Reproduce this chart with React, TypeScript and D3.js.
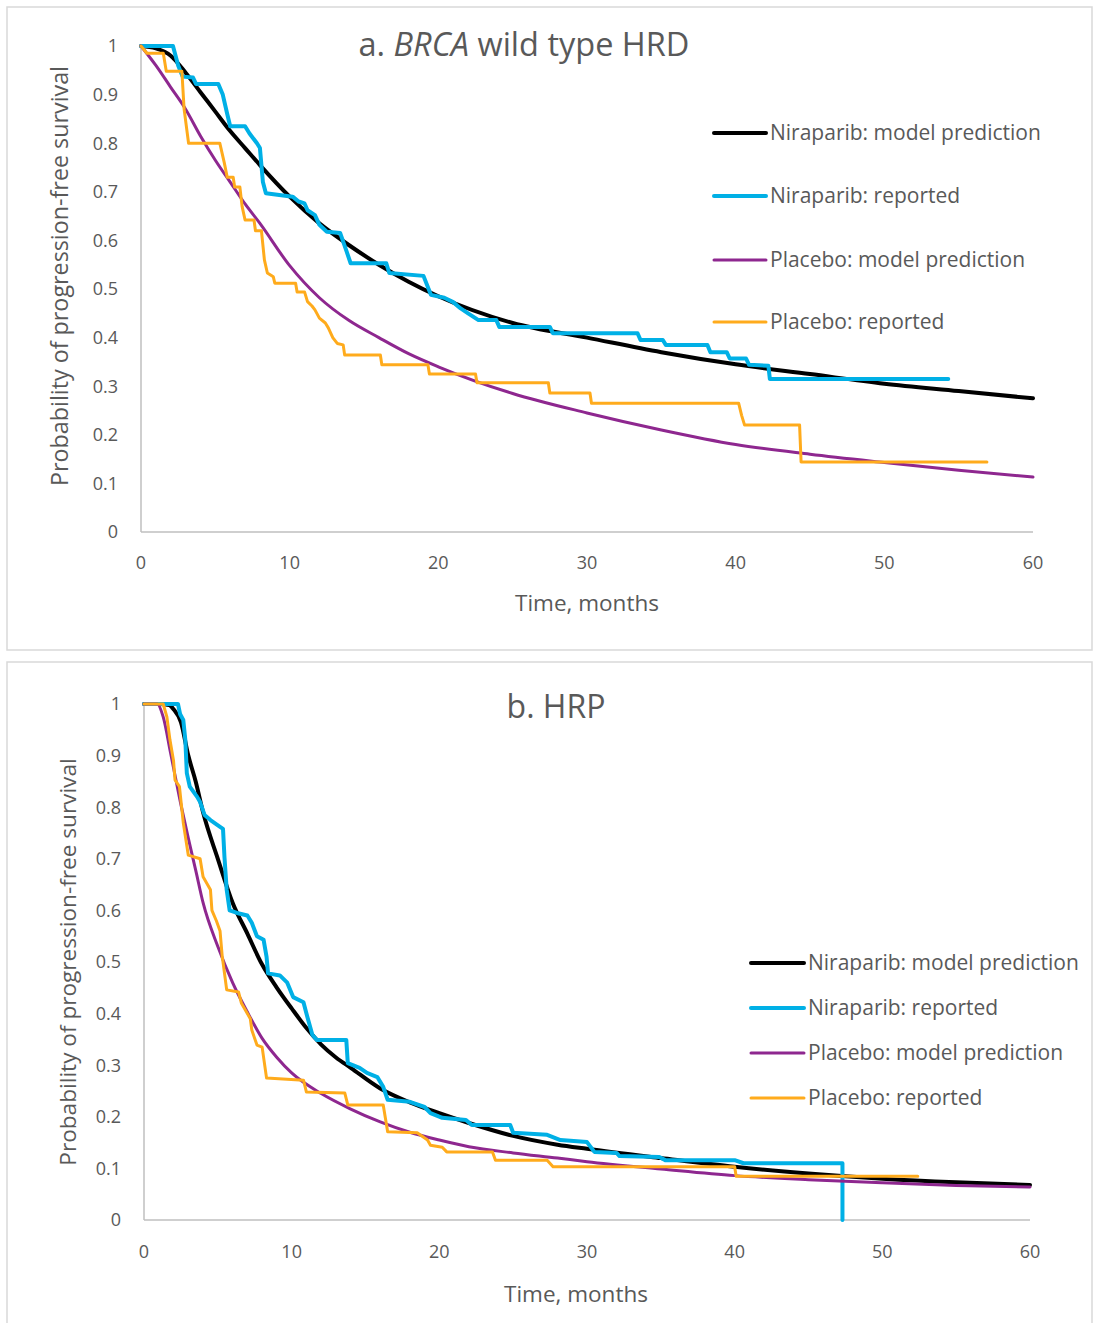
import React from "react";
import * as d3 from "d3";

// ---------- data ----------
const xTickValues = [0, 10, 20, 30, 40, 50, 60];
const yTickValues = [0, 0.1, 0.2, 0.3, 0.4, 0.5, 0.6, 0.7, 0.8, 0.9, 1];
const legendLabels = [
  "Niraparib: model prediction",
  "Niraparib: reported",
  "Placebo: model prediction",
  "Placebo: reported",
];
const xAxisTitle = "Time, months";
const yAxisTitle = "Probability of progression-free survival";

// Panel a: BRCA wild type HRD
const aNiraparibModel: [number, number][] = [
  [0, 1], [1, 0.995], [2, 0.98], [3, 0.945], [4, 0.905], [5, 0.865], [6, 0.825],
  [7, 0.79], [8, 0.755], [10, 0.69], [12, 0.635], [14, 0.59], [16, 0.55],
  [18, 0.515], [20, 0.485], [25, 0.43], [30, 0.4], [35, 0.37], [40, 0.345],
  [45, 0.325], [50, 0.305], [55, 0.29], [60, 0.275],
];
const aNiraparibReported: [number, number][] = [
  [0, 1], [2.15, 1], [2.5, 0.96], [2.8, 0.937], [3.5, 0.935], [3.7, 0.922], [5.2, 0.922],
  [5.5, 0.9], [5.8, 0.86], [6, 0.835], [7, 0.835], [7.3, 0.82], [7.8, 0.8], [8.0, 0.79],
  [8.2, 0.72], [8.4, 0.697], [10.2, 0.69], [10.6, 0.68], [11, 0.676], [11.2, 0.662],
  [11.7, 0.652], [12, 0.632], [12.5, 0.618], [13.4, 0.615], [13.8, 0.58], [14.1, 0.553],
  [16.5, 0.553], [16.7, 0.533], [19, 0.527], [19.5, 0.488], [20.4, 0.482], [21, 0.473],
  [21.5, 0.46], [22, 0.45], [22.7, 0.436], [23.9, 0.436], [24.1, 0.422], [27.5, 0.422],
  [27.7, 0.409], [33.4, 0.409], [33.6, 0.395], [35.1, 0.395], [35.3, 0.385], [38.1, 0.385],
  [38.3, 0.37], [39.4, 0.37], [39.6, 0.357], [40.7, 0.357], [40.9, 0.344], [42.2, 0.342],
  [42.3, 0.315], [54.3, 0.315],
];
const aPlaceboModel: [number, number][] = [
  [0, 1], [1, 0.96], [2, 0.915], [3, 0.87], [4, 0.815], [5, 0.765], [6, 0.72],
  [7, 0.675], [8, 0.635], [10, 0.548], [12, 0.482], [14, 0.435], [16, 0.4],
  [18, 0.367], [20, 0.34], [25, 0.285], [30, 0.245], [35, 0.21], [40, 0.18],
  [45, 0.16], [50, 0.143], [55, 0.127], [60, 0.113],
];
const aPlaceboReported: [number, number][] = [
  [0, 1], [0.4, 0.985], [1.5, 0.985], [1.7, 0.948], [2.75, 0.948], [2.9, 0.87], [3.2, 0.8],
  [5.3, 0.8], [5.6, 0.76], [5.8, 0.73], [6.2, 0.73], [6.3, 0.71], [6.65, 0.71], [6.8, 0.67],
  [7, 0.642], [7.6, 0.642], [7.7, 0.62], [8.1, 0.62], [8.3, 0.56], [8.5, 0.533], [8.9, 0.525],
  [9, 0.512], [10.4, 0.512], [10.5, 0.494], [11, 0.494], [11.2, 0.474], [11.5, 0.465],
  [11.7, 0.457], [12, 0.44], [12.4, 0.43], [12.6, 0.42], [12.9, 0.4], [13.2, 0.388],
  [13.6, 0.385], [13.7, 0.364], [16.1, 0.364], [16.2, 0.344], [19.3, 0.344], [19.4, 0.325],
  [22.5, 0.325], [22.6, 0.307], [27.4, 0.307], [27.5, 0.286], [30.2, 0.286], [30.3, 0.265],
  [40.2, 0.265], [40.4, 0.24], [40.6, 0.22], [44.3, 0.22], [44.4, 0.144], [56.9, 0.144],
];

// Panel b: HRP
const bNiraparibModel: [number, number][] = [
  [0, 1], [1, 1], [1.7, 0.998], [2, 0.99], [2.5, 0.965], [3, 0.9], [3.5, 0.85], [4, 0.79],
  [5, 0.7], [6, 0.615], [7, 0.555], [8, 0.495], [9, 0.45], [10, 0.41], [11, 0.372],
  [12, 0.34], [13, 0.315], [14, 0.295], [16, 0.255], [18, 0.228], [20, 0.207], [22, 0.188],
  [25, 0.163], [28, 0.146], [30, 0.138], [35, 0.12], [40, 0.103], [45, 0.09], [50, 0.08],
  [55, 0.073], [60, 0.068],
];
const bNiraparibReported: [number, number][] = [
  [0, 1], [2.3, 1], [2.45, 0.98], [2.66, 0.969], [2.8, 0.93], [2.9, 0.866], [3.1, 0.84],
  [3.6, 0.82], [3.8, 0.81], [4.1, 0.785], [4.5, 0.775], [5.15, 0.762], [5.35, 0.758],
  [5.45, 0.703], [5.6, 0.64], [5.8, 0.6], [6.3, 0.595], [7, 0.59], [7.3, 0.576], [7.65, 0.55],
  [8.1, 0.543], [8.3, 0.51], [8.4, 0.478], [9.2, 0.474], [9.7, 0.46], [10.1, 0.432],
  [10.8, 0.422], [11, 0.4], [11.4, 0.359], [11.7, 0.349], [13.7, 0.349], [13.8, 0.304],
  [14.6, 0.295], [15.1, 0.285], [15.8, 0.277], [16.2, 0.258], [16.5, 0.233], [18, 0.229],
  [19, 0.219], [19.4, 0.207], [20.2, 0.198], [21.8, 0.194], [22.2, 0.184], [24.8, 0.184],
  [25, 0.169], [27.3, 0.165], [28.2, 0.155], [30, 0.151], [30.5, 0.132], [32, 0.13],
  [32.2, 0.124], [34.9, 0.122], [35.3, 0.116], [40, 0.116], [40.6, 0.11], [47.3, 0.11],
  [47.3, 0],
];
const bPlaceboModel: [number, number][] = [
  [0, 1], [0.9, 1], [1.3, 0.975], [1.8, 0.905], [2.5, 0.805], [3, 0.74], [3.5, 0.678],
  [4, 0.615], [5, 0.53], [6, 0.46], [7, 0.403], [8, 0.352], [9, 0.315], [10, 0.285],
  [12, 0.245], [14, 0.215], [16, 0.19], [18, 0.17], [20, 0.155], [22, 0.142], [25, 0.13],
  [28, 0.12], [30, 0.113], [35, 0.099], [40, 0.086], [45, 0.078], [50, 0.072], [55, 0.067],
  [60, 0.064],
];
const bPlaceboReported: [number, number][] = [
  [0, 1], [1.3, 1], [1.55, 0.975], [1.76, 0.93], [2, 0.89], [2.1, 0.853], [2.4, 0.84],
  [2.66, 0.77], [3, 0.707], [3.8, 0.7], [4, 0.665], [4.5, 0.64], [4.6, 0.6], [4.9, 0.58],
  [5.15, 0.56], [5.3, 0.51], [5.35, 0.5], [5.6, 0.446], [6.4, 0.442], [6.6, 0.42],
  [7.2, 0.39], [7.3, 0.368], [7.65, 0.339], [8, 0.335], [8.3, 0.275], [10.8, 0.271],
  [11, 0.248], [13.6, 0.246], [13.8, 0.223], [16.2, 0.223], [16.5, 0.171], [18.5, 0.169],
  [19.2, 0.155], [19.4, 0.145], [20.2, 0.141], [20.5, 0.132], [23.6, 0.132], [23.8, 0.116],
  [27.3, 0.116], [27.7, 0.103], [40, 0.103], [40.1, 0.085], [52.4, 0.085],
];

// ---------- drawing ----------
const FONT = "'Open Sans', 'Noto Sans', sans-serif";
const TEXT = "#595959";
const AXIS = "#bfbfbf";
const COLORS = ["#000000", "#00B0E6", "#8E278F", "#FFAB1C"];
const WIDTHS = [4, 4, 3, 3];

type PanelProps = {
  frame: { x: number; y: number; w: number; h: number };
  plot: { x0: number; x1: number; yTop: number; yBottom: number };
  title: React.ReactNode;
  titleX: number;
  titleY: number;
  titleSize: number;
  yTickX: number;
  yTitleX: number;
  yTitleY: number;
  yTitleSize: number;
  xTickY: number;
  xTitleX: number;
  xTitleY: number;
  legend: { x0: number; x1: number; ys: number[] };
  series: [number, number][][];
};

function Panel(p: PanelProps) {
  const x = d3.scaleLinear().domain([0, 60]).range([p.plot.x0, p.plot.x1]);
  const y = d3.scaleLinear().domain([0, 1]).range([p.plot.yBottom, p.plot.yTop]);
  const smooth = d3
    .line<[number, number]>()
    .x((d) => x(d[0]))
    .y((d) => y(d[1]))
    .curve(d3.curveMonotoneX);
  const steps = d3
    .line<[number, number]>()
    .x((d) => x(d[0]))
    .y((d) => y(d[1]));
  return (
    <g>
      <rect
        x={p.frame.x}
        y={p.frame.y}
        width={p.frame.w}
        height={p.frame.h}
        fill="#fff"
        stroke="#d9d9d9"
        strokeWidth={1.5}
      />
      <text
        x={p.titleX}
        y={p.titleY}
        textAnchor="middle"
        fontFamily={FONT}
        fontSize={p.titleSize}
        fill={TEXT}
      >
        {p.title}
      </text>
      {/* axes */}
      <line x1={p.plot.x0} x2={p.plot.x0} y1={p.plot.yTop} y2={p.plot.yBottom} stroke={AXIS} strokeWidth={1.5} />
      <line x1={p.plot.x0} x2={p.plot.x1} y1={p.plot.yBottom} y2={p.plot.yBottom} stroke={AXIS} strokeWidth={1.5} />
      {yTickValues.map((v) => (
        <text
          key={"y" + v}
          x={p.yTickX}
          y={y(v)}
          dy="0.35em"
          textAnchor="end"
          fontFamily={FONT}
          fontSize={18}
          fill={TEXT}
        >
          {d3.format("~g")(v)}
        </text>
      ))}
      {xTickValues.map((v) => (
        <text
          key={"x" + v}
          x={x(v)}
          y={p.xTickY}
          dy="0.35em"
          textAnchor="middle"
          fontFamily={FONT}
          fontSize={18}
          fill={TEXT}
        >
          {v}
        </text>
      ))}
      <text
        x={p.xTitleX}
        y={p.xTitleY}
        dy="0.35em"
        textAnchor="middle"
        fontFamily={FONT}
        fontSize={22.5}
        fill={TEXT}
      >
        {xAxisTitle}
      </text>
      <text
        transform={`translate(${p.yTitleX},${p.yTitleY}) rotate(-90)`}
        dy="0.35em"
        textAnchor="middle"
        fontFamily={FONT}
        fontSize={p.yTitleSize}
        fill={TEXT}
      >
        {yAxisTitle}
      </text>
      {/* series */}
      {p.series.map((s, i) => (
        <path
          key={"s" + i}
          d={(i % 2 === 0 ? smooth : steps)(s) || ""}
          fill="none"
          stroke={COLORS[i]}
          strokeWidth={WIDTHS[i]}
          strokeLinejoin="round"
          strokeLinecap="round"
        />
      ))}
      {/* legend */}
      {legendLabels.map((lab, i) => (
        <g key={"l" + i}>
          <line
            x1={p.legend.x0}
            x2={p.legend.x1}
            y1={p.legend.ys[i]}
            y2={p.legend.ys[i]}
            stroke={COLORS[i]}
            strokeWidth={WIDTHS[i]}
            strokeLinecap="round"
          />
          <text
            x={p.legend.x1 + 4}
            y={p.legend.ys[i]}
            dy="0.35em"
            fontFamily={FONT}
            fontSize={21}
            fill={TEXT}
          >
            {lab}
          </text>
        </g>
      ))}
    </g>
  );
}

export default function App() {
  return (
    <svg
      width={1093}
      height={1323}
      style={{ position: "absolute", left: 0, top: 0, background: "#fff" }}
    >
      <Panel
        frame={{ x: 7, y: 7, w: 1085, h: 643 }}
        plot={{ x0: 141, x1: 1033, yTop: 46, yBottom: 532 }}
        title={
          <>
            <tspan>a. </tspan>
            <tspan fontStyle="italic">BRCA</tspan>
            <tspan> wild type HRD</tspan>
          </>
        }
        titleX={524}
        titleY={56}
        titleSize={32.5}
        yTickX={118}
        yTitleX={60}
        yTitleY={276}
        yTitleSize={23.3}
        xTickY={563}
        xTitleX={587}
        xTitleY={603}
        legend={{ x0: 714, x1: 766, ys: [133, 196, 260, 322] }}
        series={[aNiraparibModel, aNiraparibReported, aPlaceboModel, aPlaceboReported]}
      />
      <Panel
        frame={{ x: 7, y: 662, w: 1085, h: 670 }}
        plot={{ x0: 144, x1: 1030, yTop: 704, yBottom: 1220 }}
        title={<tspan>b. HRP</tspan>}
        titleX={556}
        titleY={718}
        titleSize={32}
        yTickX={121}
        yTitleX={68}
        yTitleY={962}
        yTitleSize={22.6}
        xTickY={1252}
        xTitleX={576}
        xTitleY={1294}
        legend={{ x0: 751, x1: 804, ys: [963, 1008, 1053, 1098] }}
        series={[bNiraparibModel, bNiraparibReported, bPlaceboModel, bPlaceboReported]}
      />
    </svg>
  );
}
